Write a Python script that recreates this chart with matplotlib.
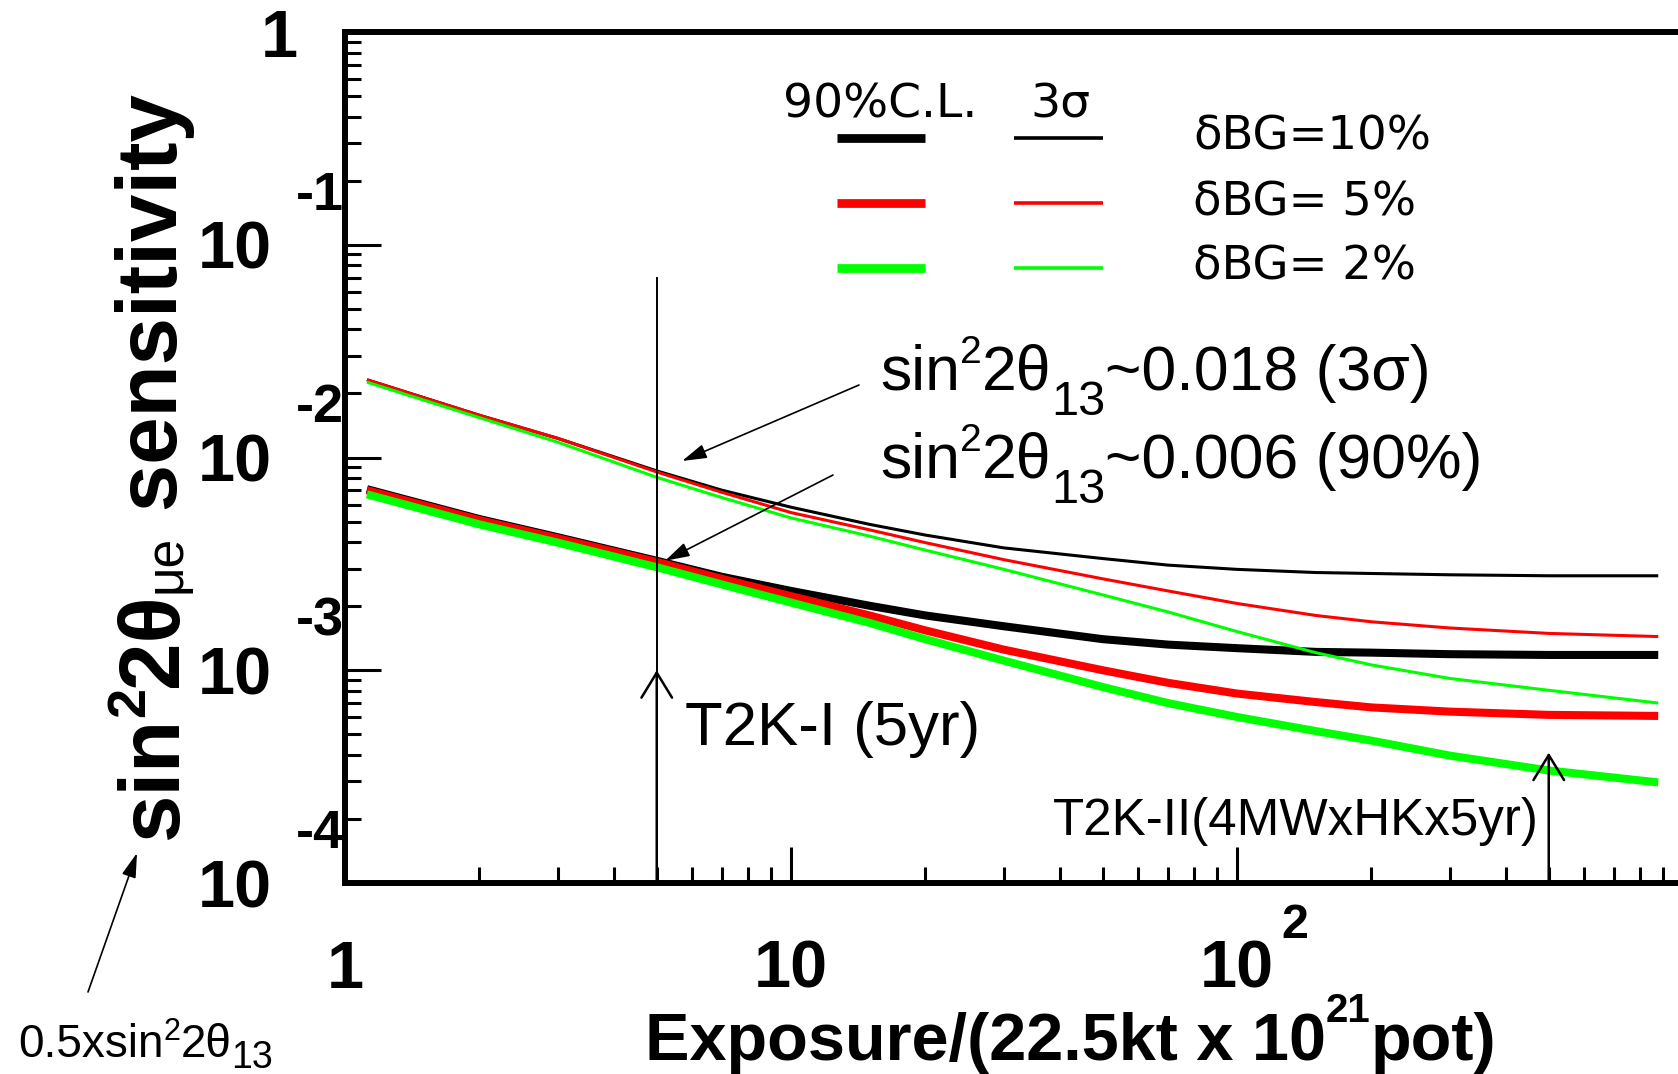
import numpy as np
import matplotlib
matplotlib.use("Agg")
import matplotlib.pyplot as plt
from matplotlib import transforms
from matplotlib.lines import Line2D
from matplotlib.ticker import LogLocator, NullFormatter

W, H = 1678, 1074

# exposure points (units of 22.5kt x 10^21 pot)
exposure = [1.12, 2, 3, 5, 7, 10, 15, 20, 30, 50, 70, 100, 150, 200, 300, 500, 880]

# 90% C.L. sensitivity (thick lines)
cl90_bg10 = [0.00710, 0.00514, 0.00422, 0.00327, 0.00275, 0.00236, 0.00201, 0.00181, 0.00161,
             0.00140, 0.00132, 0.00127, 0.00122, 0.00121, 0.00119, 0.00118, 0.00118]
cl90_bg5 = [0.00702, 0.00508, 0.00417, 0.00323, 0.00269, 0.00223, 0.00181, 0.00154, 0.00125,
            0.00100, 0.000873, 0.000777, 0.000709, 0.000669, 0.000639, 0.000617, 0.000610]
cl90_bg2 = [0.00671, 0.00485, 0.00398, 0.00305, 0.00253, 0.00208, 0.00167, 0.00140, 0.00111,
            0.000834, 0.000701, 0.000603, 0.000518, 0.000467, 0.000397, 0.000338, 0.000297]

# 3 sigma sensitivity (thin lines)
s3_bg10 = [0.0232, 0.0158, 0.0123, 0.00865, 0.00702, 0.00584, 0.00485, 0.00432, 0.00376,
           0.00335, 0.00312, 0.00298, 0.00288, 0.00285, 0.00281, 0.00278, 0.00278]
s3_bg5 = [0.0232, 0.0158, 0.0123, 0.00855, 0.00686, 0.00551, 0.00457, 0.00398, 0.00331,
          0.00269, 0.00236, 0.00206, 0.00181, 0.00169, 0.00158, 0.00149, 0.00144]
s3_bg2 = [0.0226, 0.0154, 0.0118, 0.00807, 0.00648, 0.00520, 0.00427, 0.00367, 0.00298,
          0.00226, 0.00188, 0.00152, 0.00121, 0.00106, 0.000915, 0.000805, 0.000701]

bg_labels = ["\u03b4BG=10%", "\u03b4BG= 5%", "\u03b4BG= 2%"]
colors = ["black", "red", "#00ff00"]

x_ticks = [1, 10, 100]
y_exponents = [-1, -2, -3, -4]

t2k1 = 5      # T2K-I (5yr)
t2k2 = 500    # T2K-II(4MWxHKx5yr)

plt.rcParams['font.family'] = ['Liberation Sans', 'DejaVu Sans']

fig = plt.figure(figsize=(W / 100, H / 100), dpi=100)
ax = fig.add_axes([345 / W, 1 - 883 / H, (1683 - 345) / W, (883 - 32) / H])
ax.set_xscale('log')
ax.set_yscale('log')
ax.set_xlim(1, 1000)
ax.set_ylim(1e-4, 1)

# curves
for ys, c in zip([cl90_bg10, cl90_bg5, cl90_bg2], colors):
    ax.plot(exposure, ys, color=c, lw=5.8, solid_capstyle='butt')
for ys, c in zip([s3_bg10, s3_bg5, s3_bg2], colors):
    ax.plot(exposure, ys, color=c, lw=2.2, solid_capstyle='butt')

# axes style (ROOT like)
for side in ['left', 'bottom', 'top']:
    ax.spines[side].set_linewidth(4.3)
ax.spines['right'].set_visible(False)
ax.xaxis.set_major_locator(LogLocator(base=10, numticks=10))
ax.yaxis.set_major_locator(LogLocator(base=10, numticks=10))
ax.xaxis.set_minor_locator(LogLocator(base=10, subs=np.arange(2, 10), numticks=20))
ax.yaxis.set_minor_locator(LogLocator(base=10, subs=np.arange(2, 10), numticks=20))
ax.xaxis.set_minor_formatter(NullFormatter())
ax.yaxis.set_minor_formatter(NullFormatter())
ax.tick_params(which='both', direction='in', left=True, bottom=True, top=False, right=False,
               labelleft=False, labelbottom=False, width=2.2, color='black')
ax.tick_params(which='major', length=26)
ax.tick_params(which='minor', length=11.5)

# tick labels
ytr = transforms.blended_transform_factory(fig.transFigure, ax.transData)
xtr = transforms.blended_transform_factory(ax.transData, fig.transFigure)
for e in y_exponents:
    ax.text(272 / W, 10.0 ** e, "10", transform=transforms.offset_copy(ytr, fig, y=-24, units='dots'),
            fontsize=48, fontweight='bold', ha='right', va='baseline')
    ax.text(344 / W, 10.0 ** e, str(e), transform=transforms.offset_copy(ytr, fig, y=35, units='dots'),
            fontsize=39, fontweight='bold', ha='right', va='baseline')
fig.text(279 / W, 1 - 57 / H, "1", fontsize=48, fontweight='bold', ha='center', va='baseline')

for xt in x_ticks:
    lab = "1" if xt == 1 else "10"
    ax.text(xt, 1 - 988 / H, lab, transform=xtr, fontsize=48, fontweight='bold',
            ha='center', va='baseline')
fig.text(1281 / W, 1 - 938 / H, "2", fontsize=35, fontweight='bold', ha='left', va='baseline')

renderer = fig.canvas.get_renderer()


def chain(x, y, parts, rot=0, **kw):
    # place pieces of text one after another, x/y in pixels from top-left
    for s, size, shift, weight in parts:
        if rot:
            t = fig.text((x + shift) / W, 1 - y / H, s, fontsize=size, fontweight=weight,
                         rotation=90, rotation_mode='anchor', ha='left', va='baseline', **kw)
            y -= t.get_window_extent(renderer).height
        else:
            t = fig.text(x / W, 1 - (y + shift) / H, s, fontsize=size, fontweight=weight,
                         ha='left', va='baseline', **kw)
            x += t.get_window_extent(renderer).width


# axis titles
chain(645, 1060, [("Exposure/(22.5kt x 10", 48, 0, 'bold'), ("21", 29, -38, 'bold'),
                  ("pot)", 48, 0, 'bold')])
chain(177, 840, [("sin", 61.5, 0, 'bold'), ("2", 39, -33, 'bold'), ("2\u03b8", 61.5, 0, 'bold'),
                 ("\u03bce", 37, 4, 'normal'), (" sensitivity", 61.5, 0, 'bold')], rot=1)

# legend
lx_thick = [837 / W, 925 / W]
lx_thin = [1014 / W, 1103 / W]
for i, (c, lab) in enumerate(zip(colors, bg_labels)):
    yy = 1 - (138 + 65 * i) / H
    fig.add_artist(Line2D(lx_thick, [yy, yy], color=c, lw=6.3, solid_capstyle='butt'))
    fig.add_artist(Line2D(lx_thin, [yy, yy], color=c, lw=2.6, solid_capstyle='butt'))
    fig.text(1193 / W, 1 - (150 + 65 * i) / H, lab, fontsize=33.5, family='DejaVu Sans',
             ha='left', va='baseline')
fig.text(783 / W, 1 - 117 / H, "90%C.L.", fontsize=34, family='DejaVu Sans', ha='left', va='baseline')
fig.text(1030 / W, 1 - 117 / H, "3\u03c3", fontsize=34, family='DejaVu Sans', ha='left', va='baseline')

# annotations
chain(880, 390, [("sin", 45, 0, 'normal'), ("2", 28, -27, 'normal'), ("2\u03b8", 45, 0, 'normal'),
                 ("13", 35, 25, 'normal'), ("~0.018 (3\u03c3)", 45, 0, 'normal')])
chain(880, 478, [("sin", 45, 0, 'normal'), ("2", 28, -27, 'normal'), ("2\u03b8", 45, 0, 'normal'),
                 ("13", 35, 25, 'normal'), ("~0.006 (90%)", 45, 0, 'normal')])
head = dict(arrowstyle='-|>,head_length=0.75,head_width=0.22', mutation_scale=20, lw=1.2,
            color='black', shrinkA=0, shrinkB=0)
ax.annotate("", xy=(5.7, 0.00963), xytext=(859, H - 385), textcoords='figure pixels', arrowprops=head)
ax.annotate("", xy=(5.22, 0.00327), xytext=(833, H - 475), textcoords='figure pixels', arrowprops=head)

# exposure markers
open_head = dict(arrowstyle='->,head_length=0.9,head_width=0.55', mutation_scale=20, lw=1.8,
                 color='black', shrinkA=0, shrinkB=0)
ax.plot([t2k1, t2k1], [1e-4, 0.07], color='black', lw=1.4)
ax.annotate("", xy=(t2k1, 1e-3), xytext=(t2k1, 1e-4), arrowprops=open_head)
ax.annotate("", xy=(t2k2, 4.1e-4), xytext=(t2k2, 1e-4), arrowprops=open_head)
fig.text(685 / W, 1 - 745 / H, "T2K-I (5yr)", fontsize=44.5, ha='left', va='baseline')
fig.text(1053 / W, 1 - 835 / H, "T2K-II(4MWxHKx5yr)", fontsize=36.8, ha='left', va='baseline')

# bottom-left note with arrow
chain(18, 1057, [("0.5xsin", 33, 0, 'normal'), ("2", 22, -17, 'normal'), ("2\u03b8", 33, 0, 'normal'),
                 ("13", 27, 11, 'normal')])
ax.annotate("", xy=(137, H - 853), xycoords='figure pixels', xytext=(88, H - 992),
            textcoords='figure pixels', arrowprops=head)

fig.savefig("out.png", dpi=100)
